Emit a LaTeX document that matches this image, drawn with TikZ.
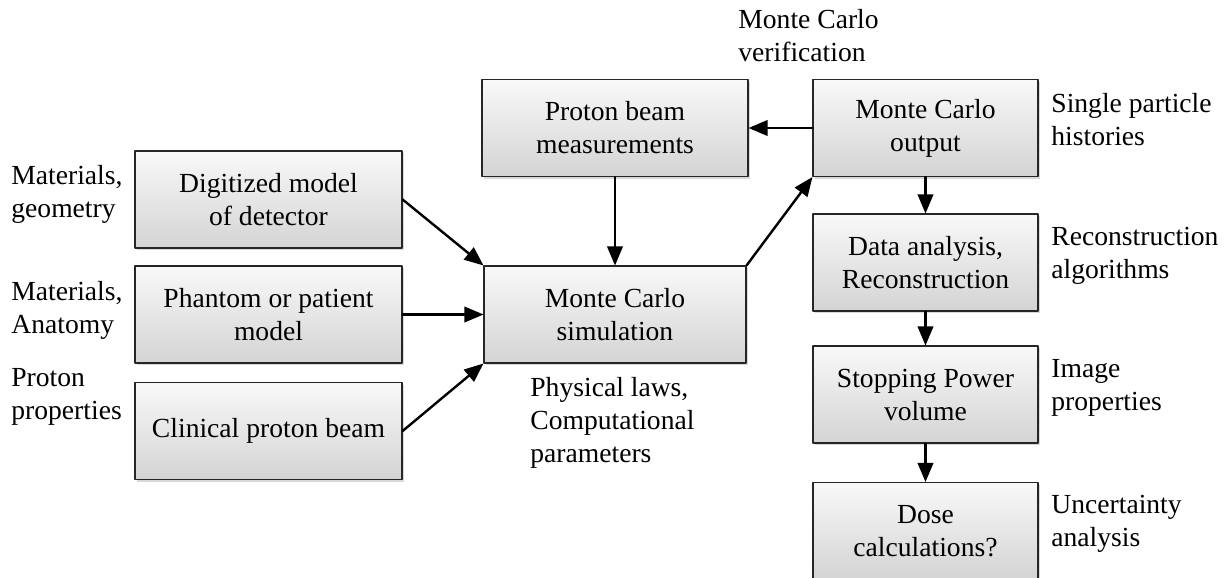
\documentclass[tikz,border=0pt]{standalone}
\usepackage{fontspec}
\setmainfont{Liberation Serif}
\usetikzlibrary{arrows,shadows}

\tikzset{
	block/.style={
		draw=black!85,
		line width=0.6pt,
		top color=gray!5,
		bottom color=gray!34,
		minimum height=48.5pt,
		align=center,
		font=\fontsize{13.8}{16.5}\selectfont,
		drop shadow={shadow xshift=1pt,shadow yshift=-1pt,opacity=0.3}
	},
	note/.style={anchor=west,align=left,inner sep=0pt,font=\fontsize{13.8}{16.5}\selectfont},
	flow/.style={->,line width=1.2pt}
}

\begin{document}
\begin{tikzpicture}
	[
		line cap=round,
		line join=round,
		>=triangle 45,
		x=0.5pt,
		y=-0.5pt
	]
		\useasboundingbox (0,0) rectangle (1228,578);
		% left column
		\node[block,minimum width=133.5pt] (digitized) at (268.5,199.5) {Digitized model\\of detector};
		\node[block,minimum width=133.5pt] (phantom) at (268.5,314.5) {Phantom or patient\\model};
		\node[block,minimum width=133.5pt] (beam) at (268.5,431) {Clinical proton beam};
		% middle column
		\node[block,minimum width=133pt] (measure) at (615,128) {Proton beam\\measurements};
		\node[block,minimum width=131pt] (simul) at (615,314.5) {Monte Carlo\\simulation};
		% right column
		\node[block,minimum width=112.5pt] (output) at (925.5,128) {Monte Carlo\\output};
		\node[block,minimum width=112.5pt] (analysis) at (925.5,262.5) {Data analysis,\\Reconstruction};
		\node[block,minimum width=112.5pt] (power) at (925.5,394.5) {Stopping Power\\volume};
		\node[block,minimum width=112.5pt] (dose) at (925.5,531) {Dose\\calculations?};
		% side notes
		\node[note] (matgeo) at (11,194) {Materials,\\geometry};
		\node[note] (matana) at (11,310) {Materials,\\Anatomy};
		\node[note] (protprop) at (11,397) {Proton\\properties};
		\node[note] (laws) at (530,423) {Physical laws,\\Computational\\parameters};
		\node[note] (verif) at (738,36) {Monte Carlo\\verification};
		\node[note] (histories) at (1051,120) {Single particle\\histories};
		\node[note] (recon) at (1051,256) {Reconstruction\\algorithms};
		\node[note] (imgprop) at (1051,388) {Image\\properties};
		\node[note] (uncert) at (1051,524) {Uncertainty\\analysis};
		% connectors
		\draw[flow] (digitized.east) -- (simul.north west);
		\draw[flow] (phantom.east) -- (simul.west);
		\draw[flow] (beam.east) -- (simul.south west);
		\draw[flow] (measure.south) -- (simul.north);
		\draw[flow] (simul.north east) -- (output.south west);
		\draw[flow] (output.west) -- (measure.east);
		\draw[flow] (output.south) -- (analysis.north);
		\draw[flow] (analysis.south) -- (power.north);
		\draw[flow] (power.south) -- (dose.north);
	\end{tikzpicture}
\end{document}
